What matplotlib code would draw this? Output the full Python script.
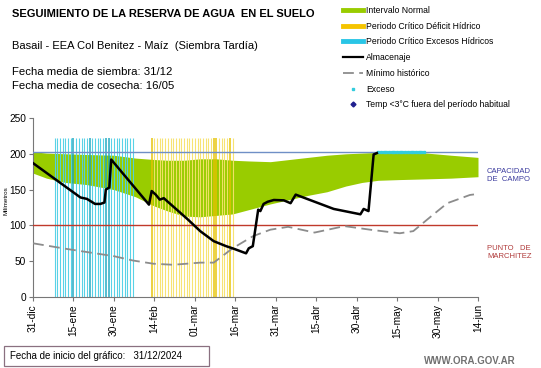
import numpy as np
import matplotlib
matplotlib.use('Agg')
import matplotlib.pyplot as plt
from matplotlib.lines import Line2D
from matplotlib.patches import Rectangle

plt.rcParams['font.family'] = ['Liberation Sans', 'DejaVu Sans']

# --- data (días desde 31-dic) ---
tick_days = [0, 15, 30, 45, 60, 75, 90, 105, 120, 135, 150, 165]
tick_labels = ['31-dic', '15-ene', '30-ene', '14-feb', '01-mar', '16-mar',
               '31-mar', '15-abr', '30-abr', '15-may', '30-may', '14-jun']

band_days = [0, 5, 12, 20, 30, 38, 45, 50, 56, 62, 68, 74, 80, 88, 95, 102,
             109, 116, 122, 128, 136, 146, 155, 165]
band_high = [203, 201, 200, 199, 198, 194, 192, 191, 191, 193, 193, 191, 190,
             189, 192, 195, 198, 200, 201, 202, 202, 201, 198, 195]
band_low = [173, 166, 160, 157, 150, 140, 127, 120, 113, 112, 114, 116, 122,
            130, 136, 142, 147, 155, 160, 163, 164, 165, 166, 168]

stor_days = [0, 17.6, 20, 23, 25, 26.5, 27, 28.3, 29, 43, 44, 45.5, 47, 48.5,
             57.5, 62, 67, 71.6, 74, 79, 80, 81.5, 83.5, 84.3, 85.5, 87, 89.3,
             93, 95.5, 97.4, 111.5, 121.4, 122.6, 124.4, 126.3, 127.5]
stor_vals = [187, 139, 137, 130, 130, 132, 150, 153, 192, 129, 148, 143, 136,
             138, 108, 92, 78, 71, 68, 61, 68, 71, 122, 120, 130, 133, 135.5,
             135, 131, 143, 123, 115.5, 123, 120, 199, 201]

min_days = [0, 12.7, 30, 37, 44.6, 52, 62, 67, 74, 81.6, 88, 94.6, 104.4,
            115.5, 125, 136, 141, 147.4, 153.6, 162, 165]
min_vals = [75, 67, 57, 51, 46.5, 45, 48, 48, 68, 85, 94, 98, 90, 99, 94, 89,
            92, 112, 131, 142.5, 144]

exceso_days = [128, 129, 130, 131, 132, 133, 134, 135, 136, 137, 138, 139,
               140, 141, 142, 143, 144, 145]
exceso_vals = [202] * len(exceso_days)

cyan_days = [8, 9, 10, 11, 12, 13, 14, 15, 16, 17, 18, 19, 20, 21, 22, 23, 24,
             25, 26, 27, 28, 29, 30, 31, 32, 33, 34, 35, 36, 37]
cyan_strong = [15, 21, 27, 28]
yellow_days = [44, 45, 46, 47, 48, 49, 50, 51, 52, 53, 54, 55, 56, 57, 58, 59,
               60, 61, 62, 63, 64, 65, 66, 67, 68, 69, 70, 71, 72, 73, 74]
yellow_strong = [44, 67, 68, 73]

capacidad = 202
marchitez = 100
stripe_top = 222

# --- figure ---
fig = plt.figure(figsize=(5.41, 3.68), dpi=100)
ax = fig.add_axes([33 / 541, 1 - 297 / 368, 445 / 541, 179 / 368])

ax.fill_between(band_days, band_low, band_high, color='#99cc00', lw=0, zorder=1)
for d in cyan_days:
    strong = d in cyan_strong
    ax.vlines(d, 0, stripe_top, color='#1aa6bf' if strong else '#4fd0e6',
              lw=1.1 if strong else 0.8, alpha=0.95, zorder=2)
for d in yellow_days:
    strong = d in yellow_strong
    ax.vlines(d, 0, stripe_top, color='#e6c200' if strong else '#f7e26b',
              lw=1.1 if strong else 0.8, alpha=0.95, zorder=2)

ax.axhline(capacidad, color='#6f8fc6', lw=1.0, zorder=3)
ax.axhline(marchitez, color='#c0392b', lw=1.0, zorder=3)
ax.plot(min_days, min_vals, color='#8c8c8c', lw=1.3, dashes=(6, 3), zorder=4)
ax.plot(exceso_days, exceso_vals, ls='none', marker='s', ms=2, color='#33ccdd', zorder=5)
ax.plot(stor_days, stor_vals, color='black', lw=1.8, zorder=6)

ax.set_xlim(0, 165)
ax.set_ylim(0, 250)
ax.set_yticks([0, 50, 100, 150, 200, 250])
ax.set_xticks(tick_days)
ax.set_xticklabels(tick_labels, rotation=90)
ax.tick_params(axis='both', labelsize=7.3, length=3, color='#777777', pad=2)
for s in ['top', 'right']:
    ax.spines[s].set_visible(False)
for s in ['left', 'bottom']:
    ax.spines[s].set_color('#777777')
    ax.spines[s].set_linewidth(0.8)

fig.text(6 / 541, 1 - 201 / 368, 'Milímetros', rotation=90, fontsize=4.5,
         ha='center', va='center')

# --- textos ---
fig.text(12 / 541, 1 - 14 / 368, 'SEGUIMIENTO DE LA RESERVA DE AGUA  EN EL SUELO',
         fontsize=8, fontweight='bold', va='center')
fig.text(12 / 541, 1 - 46 / 368, 'Basail - EEA Col Benitez - Maíz  (Siembra Tardía)',
         fontsize=8, va='center')
fig.text(12 / 541, 1 - 72 / 368, 'Fecha media de siembra: 31/12', fontsize=8.2, va='center')
fig.text(12 / 541, 1 - 86 / 368, 'Fecha media de cosecha: 16/05', fontsize=8.2, va='center')

fig.text(487 / 541, 1 - 175 / 368, 'CAPACIDAD\nDE  CAMPO', fontsize=5.5,
         color='#3b3b9e', va='center', linespacing=1.2)
fig.text(487 / 541, 1 - 252 / 368, 'PUNTO   DE\nMARCHITEZ', fontsize=5.5,
         color='#b03a3a', va='center', linespacing=1.2)

# --- leyenda ---
handles = [
    Line2D([], [], color='#99cc00', lw=3.5),
    Line2D([], [], color='#f5c400', lw=3.5),
    Line2D([], [], color='#29c5e6', lw=3.5),
    Line2D([], [], color='black', lw=1.6),
    Line2D([], [], color='#8c8c8c', lw=1.3, dashes=(6, 3)),
    Line2D([], [], ls='none', marker='s', ms=2, color='#33ccdd'),
    Line2D([], [], ls='none', marker='D', ms=2.5, color='#1f1f8f'),
]
labels = ['Intervalo Normal', 'Periodo Crítico Déficit Hídrico',
          'Periodo Crítico Excesos Hídricos', 'Almacenaje', 'Mínimo histórico',
          'Exceso', 'Temp <3°C fuera del período habitual']
fig.legend(handles, labels, loc='upper left', bbox_to_anchor=(343 / 541, 1 - 6 / 368),
           fontsize=6.2, frameon=False, handlelength=2.3, handletextpad=0.35,
           labelspacing=0.78, borderaxespad=0, borderpad=0)

# --- pie ---
fig.patches.append(Rectangle((4 / 541, 2 / 368), 205 / 541, 20 / 368,
                             transform=fig.transFigure, fill=False,
                             edgecolor='#8a7080', lw=0.9))
fig.text(10 / 541, 12 / 368, 'Fecha de inicio del gráfico:   31/12/2024',
         fontsize=7, va='center')
fig.text(470 / 541, 7 / 368, 'WWW.ORA.GOV.AR', fontsize=7, fontweight='bold',
         color='#707070', ha='center', va='center')

fig.savefig('out.png', dpi=100)
